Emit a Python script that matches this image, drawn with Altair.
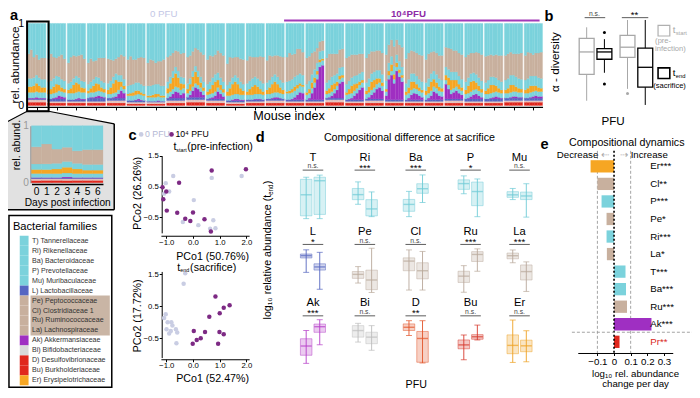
import altair as alt
import pandas as pd

W, H = 684, 382
FONT = "Liberation Sans"
K = 0.97


def px(x):
    return (x - 1) * 0.979


def py(y):
    return (y - 1) * 0.965


def off_left(x):
    return -px(x)


def off_bottom(y):
    return py(y) - H


C_CYAN = "#7bd2dc"
C_BLUE = "#5566c2"
C_TAN = "#c8b09e"
C_PURPLE = "#9f2fc2"
C_BI = "#e7c4bd"
C_BIGRAY = "#d9d9d9"
C_RED = "#e0271d"
C_ORANGE = "#f6a623"
C_GRAYPT = "#c9cde3"
C_DPURPLE = "#7d2a84"

# ---------------- panel a data (26 mice x 7 days) ----------------
A_RED = [.04, .03, .03, .03, .03, .02, .02, .03, .04, .03, .02, .03, .03,
         .03, .03, .04, .03, .03, .03, .03, .03, .03, .03, .03, .04, .04]
A_BI = [.03, .02, .02, .02, .03, .02, .02, .03, .03, .03, .02, .02, .03,
        .02, .02, .03, .02, .03, .02, .02, .02, .03, .02, .02, .02, .02]
A_LACTO = [.01, .03, .02, .04, .03, .02, .01, .03, .03, .02, .02, .02, .02,
           .02, .02, .02, .02, .02, .02, .02, .02, .02, .03, .03, .03, .03]
A_PREV = [.07, .06, .08, .06, .05, .06, .05, .06, .05, .05, .06, .06, .06,
          .08, .06, .05, .06, .06, .05, .06, .06, .05, .06, .06, .06, .06]
A_BACT = [.10, .10, .08, .08, .08, .10, .12, .08, .07, .09, .08, .10, .09,
          .12, .10, .10, .10, .10, .10, .10, .10, .10, .10, .10, .12, .12]
A_AKK = [
    [.01, .01, .01, .02, .01, .01, .01], [.0, .0, .01, .02, .04, .03, .02],
    [.0, .0, .0, .01, .02, .01, .01], [.0, .01, .01, .02, .03, .02, .01],
    [.0, .0, .01, .02, .05, .09, .06], [.0, .0, .0, .01, .02, .01, .0],
    [.0, .0, .0, .0, .01, .0, .0], [.0, .02, .05, .08, .07, .04, .06],
    [.0, .03, .08, .12, .10, .07, .03], [.0, .01, .02, .04, .09, .06, .03],
    [.0, .0, .01, .02, .02, .01, .01], [.0, .0, .0, .01, .01, .01, .0],
    [.0, .0, .01, .02, .02, .01, .0],
    [.0, .0, .01, .03, .06, .09, .08], [.0, .02, .08, .15, .25, .40, .42],
    [.0, .01, .03, .06, .10, .18, .20], [.0, .01, .02, .05, .08, .12, .15],
    [.0, .02, .05, .08, .12, .14, .10], [.05, .25, .30, .20, .35, .28, .22],
    [.0, .02, .06, .08, .07, .05, .03], [.0, .02, .05, .10, .08, .05, .04],
    [.18, .12, .06, .08, .10, .07, .05], [.0, .01, .03, .05, .06, .04, .02],
    [.0, .0, .01, .02, .03, .02, .01], [.0, .0, .01, .02, .02, .01, .01],
    [.0, .0, .01, .02, .03, .02, .02],
]
A_ERYS = [
    [.07, .07, .08, .10, .08, .06, .06], [.05, .06, .08, .10, .07, .05, .04],
    [.04, .06, .10, .12, .09, .06, .05], [.03, .05, .08, .10, .08, .05, .04],
    [.05, .08, .12, .15, .10, .06, .04], [.02, .03, .04, .05, .04, .03, .02],
    [.02, .02, .03, .04, .03, .02, .02], [.06, .10, .14, .16, .12, .08, .05],
    [.05, .08, .12, .14, .10, .06, .04], [.04, .06, .10, .12, .09, .06, .04],
    [.05, .09, .13, .15, .12, .08, .05], [.04, .07, .10, .11, .09, .06, .04],
    [.05, .08, .11, .13, .10, .07, .05],
    [.02, .03, .04, .05, .04, .03, .02], [.03, .05, .07, .06, .04, .03, .02],
    [.04, .06, .08, .07, .05, .04, .03], [.03, .06, .09, .08, .06, .04, .03],
    [.04, .07, .10, .09, .07, .05, .04], [.03, .05, .08, .06, .05, .04, .03],
    [.04, .07, .10, .08, .06, .04, .03], [.05, .08, .11, .09, .07, .05, .04],
    [.06, .09, .12, .10, .08, .06, .04], [.05, .09, .12, .11, .08, .06, .04],
    [.04, .07, .10, .09, .07, .05, .04], [.04, .06, .09, .08, .06, .05, .04],
    [.04, .06, .08, .07, .06, .05, .04],
]
A_CLOS = [
    [.30, .35, .25, .25, .22, .26, .26], [.28, .33, .26, .22, .25, .30, .27],
    [.25, .30, .28, .24, .27, .32, .28], [.26, .28, .22, .20, .24, .28, .30],
    [.30, .26, .20, .18, .22, .25, .28], [.32, .35, .30, .28, .30, .33, .34],
    [.28, .32, .30, .26, .28, .30, .32], [.30, .26, .22, .20, .24, .28, .30],
    [.32, .28, .24, .22, .26, .30, .33], [.30, .32, .26, .24, .27, .30, .32],
    [.26, .30, .24, .22, .25, .28, .30], [.28, .30, .26, .24, .26, .30, .32],
    [.27, .30, .25, .23, .26, .29, .31],
    [.30, .34, .30, .28, .32, .30, .28], [.32, .30, .26, .22, .18, .12, .12],
    [.30, .32, .28, .26, .24, .22, .22], [.32, .30, .28, .26, .25, .24, .22],
    [.30, .30, .27, .25, .24, .24, .26], [.32, .22, .20, .24, .18, .20, .24],
    [.30, .32, .28, .27, .28, .30, .32], [.28, .30, .26, .24, .26, .28, .30],
    [.24, .26, .28, .26, .26, .28, .30], [.30, .28, .25, .24, .27, .30, .32],
    [.32, .30, .27, .26, .28, .30, .32], [.30, .30, .28, .26, .28, .30, .32],
    [.30, .32, .28, .26, .28, .30, .32],
]
STACK_COLORS = [C_RED, C_BI, C_BLUE, C_PURPLE, C_CYAN, C_ORANGE, C_CYAN, C_TAN, C_CYAN]

# ---------------- legend ----------------
LEG_LABELS = ["T) Tannerellaceae", "Ri) Rikenellaceae", "Ba) Bacteroidaceae",
              "P) Prevotellaceae", "Mu) Muribaculaceae", "L) Lactobacillaceae",
              "Pe) Peptococcaceae", "Cl) Clostridiaceae 1", "Ru) Ruminococcaceae",
              "La) Lachnospiraceae", "Ak) Akkermansiaceae", "Bi) Bifidobacteriaceae",
              "D) Desulfovibrionaceae", "Bu) Burkholderiaceae", "Er) Erysipelotrichaceae"]
LEG_COLORS = [C_CYAN] * 5 + [C_BLUE] + [C_TAN] * 4 + [C_PURPLE, C_BIGRAY, C_RED, C_RED, C_ORANGE]

# ---------------- panel b data ----------------
B_STATS = {  # min, q1, median, q3, max
    ("0", "start"): [11.0, 25.4, 37.7, 45.1, 51.2],
    ("0", "end"): [26.3, 33.7, 37.7, 39.5, 44.7],
    ("10⁴", "start"): [17.5, 34.7, 40.3, 46.8, 55.2],
    ("10⁴", "end"): [8.7, 18.4, 29.3, 39.8, 55.2],
}
B_OUTLIERS = {("0", "end"): [48.4, 20.1], ("10⁴", "start"): [15.0]}

# ---------------- panel c data ----------------
C1_X0 = [-0.74, 0.70, 1.82, -1.02, -0.89, 0.03, -1.08, -0.38, 0.20, 0.76, 0.84, 0.64]
C1_Y0 = [0.84, 0.78, 0.84, 0.61, 0.34, 0.06, 0.27, -0.65, -0.75, -0.59, -0.85, -0.87]
C1_X1 = [0.70, 1.98, -0.52, -1.14, -1.00, -1.11, -0.98, -0.59, 0.00, -0.29, -0.10, 0.43, 0.67]
C1_Y1 = [1.02, 1.06, 0.62, 0.48, 0.34, 0.09, -0.28, -0.35, -0.34, -0.54, -0.62, -0.56, -0.96]
C2_X0 = [-0.29, -0.35, -1.02, -1.08, -0.95, -0.77, -0.99, -0.83, -0.64, -0.59, -0.62, -0.89, -0.81]
C2_Y0 = [1.52, 1.20, 0.25, 0.13, 0.00, -0.10, -0.22, -0.27, -0.22, -0.32, -0.65, -0.35, 0.00]
C2_X1 = [0.84, 1.15, 1.37, 1.00, 0.61, 0.03, 0.45, 0.99, 1.15, 0.29, 0.14, -0.01, 0.94]
C2_Y1 = [0.80, 0.45, 0.53, 0.28, 0.17, -0.27, -0.30, -0.30, -0.37, -0.50, -0.55, -0.67, -0.67]

# ---------------- panel d data ----------------
D_GRID = [["T", "Ri", "Ba", "P", "Mu"], ["L", "Pe", "Cl", "Ru", "La"], ["Ak", "Bi", "D", "Bu", "Er"]]
D_SIG = {"T": "n.s.", "Ri": "***", "Ba": "***", "P": "*", "Mu": "n.s.",
         "L": "*", "Pe": "n.s.", "Cl": "n.s.", "Ru": "***", "La": "***",
         "Ak": "***", "Bi": "n.s.", "D": "**", "Bu": "n.s.", "Er": "n.s."}
D_STATS = {  # [0 PFU], [10^4 PFU]: min, q1, median, q3, max
    "T": [[-4.7, -4.5, -3.0, -1.9, -1.75], [-4.7, -4.4, -2.0, -1.75, -1.6]],
    "Ri": [[-1.6, -1.48, -1.35, -1.19, -1.02], [-1.92, -1.9, -1.72, -1.48, -1.28]],
    "Ba": [[-1.62, -1.48, -1.3, -1.17, -0.96], [-1.25, -1.01, -0.89, -0.76, -0.53]],
    "P": [[-1.67, -1.47, -1.21, -1.04, -0.86], [-2.71, -2.21, -1.57, -1.14, -1.0]],
    "Mu": [[-0.414, -0.398, -0.38, -0.357, -0.334], [-0.54, -0.414, -0.388, -0.36, -0.30]],
    "L": [[-2.61, -1.92, -1.81, -1.73, -1.53], [-3.42, -2.5, -2.35, -2.2, -1.65]],
    "Pe": [[-3.2, -3.0, -2.83, -2.71, -2.5], [-3.6, -3.48, -3.07, -2.65, -1.72]],
    "Cl": [[-4.12, -2.62, -1.87, -1.62, -1.0], [-4.12, -3.25, -2.62, -2.0, -1.12]],
    "Ru": [[-1.30, -1.16, -1.07, -1.0, -0.92], [-1.0, -0.86, -0.76, -0.72, -0.68]],
    "La": [[-0.69, -0.6, -0.53, -0.47, -0.4], [-1.34, -1.08, -0.89, -0.74, -0.67]],
    "Ak": [[-3.58, -3.0, -2.34, -1.82, -1.23], [-2.25, -1.36, -0.96, -0.77, -0.46]],
    "Bi": [[-3.2, -2.9, -2.5, -2.2, -2.06], [-3.7, -3.3, -2.9, -2.6, -2.2]],
    "D": [[-2.59, -2.23, -2.0, -1.76, -1.53], [-4.55, -4.5, -2.8, -2.3, -1.53]],
    "Bu": [[-2.65, -2.34, -2.23, -2.09, -1.95], [-2.09, -2.07, -2.0, -1.94, -1.67]],
    "Er": [[-2.68, -2.28, -1.9, -1.42, -0.74], [-2.65, -2.19, -1.92, -1.66, -1.23]],
}
D_TICKS = {"T": [-2, -3, -4], "Ri": [-1.0, -1.4, -1.8], "Ba": [-0.8, -1.2, -1.6],
           "P": [-1.0, -1.5, -2.0, -2.5], "Mu": [-0.3, -0.4, -0.5], "L": [-2.0, -3.0],
           "Pe": [-2.0, -2.5, -3.0, -3.5], "Cl": [-1, -2, -3, -4], "Ru": [-0.8, -1.0, -1.2],
           "La": [-0.4, -0.8, -1.2], "Ak": [-1, -2, -3], "Bi": [-2, -3, -4], "D": [-2, -3, -4],
           "Bu": [-1.5, -2.0, -2.5], "Er": [-1.0, -1.5, -2.0, -2.5]}
D_DOMAIN = {"T": [-4.75, -1.45], "Ri": [-1.99, -0.79], "Ba": [-1.69, -0.48], "P": [-2.83, -0.73],
            "Mu": [-0.556, -0.223], "L": [-3.63, -1.41], "Pe": [-3.65, -1.68], "Cl": [-4.4, -0.8],
            "Ru": [-1.32, -0.658], "La": [-1.39, -0.34], "Ak": [-3.7, -0.39], "Bi": [-4.6, -1.78],
            "D": [-4.7, -1.39], "Bu": [-2.8, -1.49], "Er": [-2.8, -0.68]}
D_COLOR = {"T": "#6fcbd6", "Ri": "#6fcbd6", "Ba": "#6fcbd6", "P": "#6fcbd6", "Mu": "#6fcbd6",
           "L": "#5566c0", "Pe": "#b9a99b", "Cl": "#b9a99b", "Ru": "#b9a99b", "La": "#b9a99b",
           "Ak": "#b63fc9", "Bi": "#bdbdbd", "D": "#e2552b", "Bu": "#d63a2e", "Er": "#eea224"}

# ---------------- panel e data ----------------
E_LABELS = ["Er***", "Cl**", "P***", "Pe*", "Ri***", "La*", "T***", "Ba***", "Ru***", "Ak***", "Pr**"]
E_VALUES = [-0.141, -0.100, -0.075, -0.045, -0.045, -0.043, 0.069, 0.072, 0.078, 0.225, 0.033]
E_COLORS = [C_ORANGE, C_TAN, C_CYAN, C_TAN, C_CYAN, C_TAN, C_CYAN, C_CYAN, C_TAN, C_PURPLE, C_RED]
E_TICKS = [-0.1, 0.0, 0.1, 0.2, 0.3]


# ================= helpers =================
def cxs():
    return alt.Scale(domain=[0, 700], range=[px(0), px(700)], zero=False, nice=False)


def cys():
    return alt.Scale(domain=[0, 398], range=[py(0), py(398)], zero=False, nice=False)


def ctext(rows, align="center", weight="normal", baseline="middle"):
    df = pd.DataFrame(rows, columns=["text", "x", "y", "size", "color", "angle"])
    df["size"] = df["size"] * K
    return alt.Chart(df).mark_text(align=align, baseline=baseline, fontWeight=weight, font=FONT).encode(
        x=alt.X("x:Q", scale=cxs(), axis=None),
        y=alt.Y("y:Q", scale=cys(), axis=None),
        text="text:N",
        size=alt.Size("size:Q", scale=None),
        color=alt.Color("color:N", scale=None),
        angle=alt.Angle("angle:Q", scale=None),
    )


def crule(rows, dash=None):
    df = pd.DataFrame(rows, columns=["x", "y", "x2", "y2", "color", "w"])
    mk = dict(strokeDash=dash) if dash else {}
    return alt.Chart(df).mark_rule(**mk).encode(
        x=alt.X("x:Q", scale=cxs(), axis=None), x2="x2",
        y=alt.Y("y:Q", scale=cys(), axis=None), y2="y2",
        color=alt.Color("color:N", scale=None),
        strokeWidth=alt.StrokeWidth("w:Q", scale=None),
    )


def crect(rows, **mark):
    df = pd.DataFrame(rows, columns=["x", "y", "x2", "y2"])
    return alt.Chart(df).mark_rect(**mark).encode(
        x=alt.X("x:Q", scale=cxs(), axis=None), x2="x2",
        y=alt.Y("y:Q", scale=cys(), axis=None), y2="y2",
    )


layers = []

# ---- callout (mouse 1 -> inset) ----
call_df = pd.DataFrame({"x": [0, 20.5, 42.5, 109.5], "y": [119, 108, 108, 121], "y2": [210] * 4})
layers.append(alt.Chart(call_df).mark_area(color="#d4d4d4", line=alt.OverlayMarkDef(color="black", strokeWidth=1.2)).encode(
    x=alt.X("x:Q", scale=cxs(), axis=None), y=alt.Y("y:Q", scale=cys(), axis=None), y2="y2"))
layers.append(crule([(109.5, 121, 109.5, 210, "black", 1.5), (0, 210, 109.5, 210, "black", 1.5)]))

# ---- panel a ----
rows = []
for m in range(26):
    for d in range(7):
        parts = [A_RED[m], A_BI[m], A_LACTO[m], A_AKK[m][d], A_PREV[m], A_ERYS[m][d], A_BACT[m], A_CLOS[m][d]]
        parts.append(1 - sum(parts))
        c = 0.0
        for k, v in enumerate(parts):
            rows.append({"m": m, "d": d, "y0": c, "y1": c + v, "col": STACK_COLORS[k]})
            c += v
a_df = pd.DataFrame(rows)
STEP = 7.6
a_df["x0"] = a_df["m"] * STEP + a_df["d"]
a_df["x1"] = a_df["x0"] + 1
AX = alt.Scale(domain=[0, 25 * STEP + 7], range=[px(21), px(547)], zero=False, nice=False)
AY = alt.Scale(domain=[0, 1], range=[py(102), py(17)], zero=False, nice=False)
layers.append(alt.Chart(a_df).mark_rect(strokeWidth=0.3).encode(
    x=alt.X("x0:Q", scale=AX, axis=alt.Axis(orient="bottom", offset=off_bottom(103.5),
            values=[m * STEP + 3.5 for m in range(26)], labels=False, tickSize=3, title=None, domainWidth=1.2)),
    x2="x1",
    y=alt.Y("y0:Q", scale=AY, axis=alt.Axis(orient="left", offset=off_left(18), values=[0, 1], format="d",
            domain=False, ticks=False, labelFontSize=11 * K, title=None, labelPadding=1)),
    y2="y1",
    fill=alt.Fill("col:N", scale=None),
    stroke=alt.Stroke("col:N", scale=None),
))
layers.append(crect([(20.5, 15, 42.5, 108)], fillOpacity=0, stroke="black", strokeWidth=2))

# ---- inset ----
in_df = a_df[a_df["m"] == 0].copy()
IX = alt.Scale(type="band", domain=list(range(7)), range=[px(25), px(98)], paddingInner=0, paddingOuter=0)
IY = alt.Scale(domain=[0, 1], range=[py(182), py(123)], zero=False, nice=False)
layers.append(alt.Chart(in_df).mark_rect(strokeWidth=0.3).encode(
    x=alt.X("d:O", scale=IX, axis=alt.Axis(orient="bottom", offset=off_bottom(183.5), labelAngle=0,
            labelFontSize=10.5 * K, tickSize=0, domainWidth=1.5, title=None, labelPadding=2)),
    y=alt.Y("y0:Q", scale=IY, axis=alt.Axis(orient="left", offset=off_left(24), values=[0, 1], format="d",
            labelFontSize=10.5 * K, ticks=False, domainWidth=1.5, title=None, labelPadding=2)),
    y2="y1",
    fill=alt.Fill("col:N", scale=None),
    stroke=alt.Stroke("col:N", scale=None),
))

# ---- legend ----
layers.append(crect([(2, 216, 107, 394)], fill="white", stroke="black", strokeWidth=1.5))
leg_df = pd.DataFrame({"idx": list(range(15)), "label": LEG_LABELS, "col": LEG_COLORS})
leg_df["lo"] = leg_df["idx"] - 0.5
leg_df["hi"] = leg_df["idx"] + 0.5
LY = alt.Scale(domain=[-0.5, 14.5], range=[py(237), py(392)], zero=False, nice=False)
sw = alt.Chart(leg_df).mark_rect().encode(
    x=alt.value(px(13)), x2=alt.value(px(22)),
    y=alt.Y("lo:Q", scale=LY, axis=None), y2="hi", fill=alt.Fill("col:N", scale=None))
hl = alt.Chart(pd.DataFrame({"lo": [5.5], "hi": [9.5]})).mark_rect(color="#c9b5a5").encode(
    x=alt.value(px(24)), x2=alt.value(px(105)), y=alt.Y("lo:Q", scale=LY, axis=None), y2="hi")
lt = alt.Chart(leg_df).mark_text(align="left", fontSize=7.3 * K, font=FONT, color="#333").encode(
    x=alt.value(px(25.5)), y=alt.Y("idx:Q", scale=LY, axis=None), text="label:N")
layers.append(alt.layer(sw, hl, lt))

# ---- panel b ----
brows, orow = [], []
for g, pfu in enumerate(["0", "10⁴"]):
    for t, tp in enumerate(["start", "end"]):
        mn, q1, md, q3, mx = B_STATS[(pfu, tp)]
        pos = g * 2.3 + t
        col = "#a8a8a8" if tp == "start" else "black"
        brows.append({"pos": pos, "lo": pos - 0.42, "hi": pos + 0.42, "mn": mn, "q1": q1, "md": md,
                      "q3": q3, "mx": mx, "col": col})
        for o in B_OUTLIERS.get((pfu, tp), []):
            orow.append({"pos": pos, "v": o, "col": col})
b_df = pd.DataFrame(brows)
o_df = pd.DataFrame(orow)
BX = alt.Scale(domain=[-0.5, 3.8], range=[px(583), px(661)], zero=False, nice=False)
BY = alt.Scale(domain=[6.3, 57], range=[py(106), py(10)], zero=False, nice=False)
b_wh = alt.Chart(b_df).mark_rule(strokeWidth=1).encode(
    x=alt.X("pos:Q", scale=BX, axis=alt.Axis(orient="bottom", offset=off_bottom(106), values=[0.5, 2.8],
            labelExpr="datum.value < 1 ? '0' : '10⁴'", labelFontSize=12 * K, tickSize=3, title=None,
            labelFlush=False)),
    y=alt.Y("mn:Q", scale=BY, axis=alt.Axis(orient="left", offset=off_left(583), values=[10, 20, 30, 40, 50],
            labelFontSize=12 * K, tickSize=3, title=None)),
    y2="mx", color=alt.Color("col:N", scale=None))
b_box = alt.Chart(b_df).mark_rect(fill="white", strokeWidth=1.3).encode(
    x=alt.X("lo:Q", scale=BX, axis=None), x2="hi", y=alt.Y("q1:Q", scale=BY, axis=None), y2="q3",
    stroke=alt.Stroke("col:N", scale=None))
b_med = alt.Chart(b_df).mark_rule(strokeWidth=1.3).encode(
    x=alt.X("lo:Q", scale=BX, axis=None), x2="hi", y=alt.Y("md:Q", scale=BY, axis=None),
    color=alt.Color("col:N", scale=None))
b_out = alt.Chart(o_df).mark_circle(size=9, opacity=1).encode(
    x=alt.X("pos:Q", scale=BX, axis=None), y=alt.Y("v:Q", scale=BY, axis=None),
    color=alt.Color("col:N", scale=None))
layers.append(alt.layer(b_wh, b_box, b_med, b_out))
layers.append(crect([(665, 19, 677, 30)], fill="white", stroke="#b0b0b0", strokeWidth=1.2))
layers.append(crect([(665, 63, 677, 74)], fill="white", stroke="black", strokeWidth=1.6))


# ---- panel c ----
def pcoa(x0, y0, x1, y1, ydom, ybot, ytop, xaxis_y):
    df = pd.DataFrame({"x": x0 + x1, "y": y0 + y1, "col": [C_GRAYPT] * len(x0) + [C_DPURPLE] * len(x1)})
    sx = alt.Scale(domain=[-1.2, 2.1], range=[px(157.2), px(247.3)], zero=False, nice=False)
    sy = alt.Scale(domain=ydom, range=[py(ybot), py(ytop)], zero=False, nice=False)
    return alt.Chart(df).mark_circle(size=20, opacity=1).encode(
        x=alt.X("x:Q", scale=sx, axis=alt.Axis(orient="bottom", offset=off_bottom(xaxis_y), values=[-1, 0, 1, 2],
                format=".1f", labelFontSize=8 * K, tickSize=2.5, title=None, labelFlush=False, labelPadding=0)),
        y=alt.Y("y:Q", scale=sy, axis=alt.Axis(orient="left", offset=off_left(158), values=[-0.5, 0.5, 1.5],
                format=".1f", labelFontSize=8 * K, tickSize=2.5, title=None, labelPadding=1)),
        color=alt.Color("col:N", scale=None))


layers.append(pcoa(C1_X0, C1_Y0, C1_X1, C1_Y1, [-1.0, 1.5], 234, 154, 237))
layers.append(pcoa(C2_X0, C2_Y0, C2_X1, C2_Y1, [-1.1, 1.58], 363.3, 274, 365))

# ---- panel d ----
D_COL_X = [299, 352, 404, 460, 510]
D_ROW_TOP = [172, 249, 323]
D_PW, D_PH = 27, 48
d_head, d_sig_small, d_sig_big, d_lines = [], [], [], []
for r, fams in enumerate(D_GRID):
    for cidx, fam in enumerate(fams):
        x0, yt = D_COL_X[cidx], D_ROW_TOP[r]
        yb = yt + D_PH
        col = D_COLOR[fam]
        s0, s1 = D_STATS[fam]
        df = pd.DataFrame({"pfu": ["0", "10⁴"], "mn": [s0[0], s1[0]], "q1": [s0[1], s1[1]],
                           "md": [s0[2], s1[2]], "q3": [s0[3], s1[3]], "mx": [s0[4], s1[4]]})
        sx = alt.Scale(type="band", domain=["0", "10⁴"], range=[px(x0), px(x0 + D_PW)],
                       paddingInner=0.15, paddingOuter=0.05)
        sy = alt.Scale(domain=D_DOMAIN[fam], range=[py(yb), py(yt)], zero=False, nice=False)
        xa = alt.Axis(orient="bottom", offset=off_bottom(yb), labels=(r == 2), labelAngle=0,
                      labelFontSize=10.5 * K, tickSize=2.5, title=None, labelPadding=1)
        ya = alt.Axis(orient="left", offset=off_left(x0), values=D_TICKS[fam], format=".1f",
                      labelFontSize=8 * K, tickSize=2.5, title=None, labelPadding=1)
        wh = alt.Chart(df).mark_rule(color=col, strokeWidth=1, opacity=0.9).encode(
            x=alt.X("pfu:N", scale=sx, axis=xa, sort=["0", "10⁴"]),
            y=alt.Y("mn:Q", scale=sy, axis=ya), y2="mx")
        bx = alt.Chart(df).mark_rect(fill=col, fillOpacity=0.28, stroke=col, strokeOpacity=0.6, strokeWidth=0.8).encode(
            x=alt.X("pfu:N", scale=sx, axis=None, sort=["0", "10⁴"]),
            y=alt.Y("q1:Q", scale=sy, axis=None), y2="q3")
        md = alt.Chart(df).mark_tick(color=col, size=11, thickness=1.4, orient="horizontal").encode(
            x=alt.X("pfu:N", scale=sx, axis=None, sort=["0", "10⁴"]), y=alt.Y("md:Q", scale=sy, axis=None))
        cap1 = alt.Chart(df).mark_tick(color=col, size=6, thickness=1, orient="horizontal").encode(
            x=alt.X("pfu:N", scale=sx, axis=None, sort=["0", "10⁴"]), y=alt.Y("mn:Q", scale=sy, axis=None))
        cap2 = alt.Chart(df).mark_tick(color=col, size=6, thickness=1, orient="horizontal").encode(
            x=alt.X("pfu:N", scale=sx, axis=None, sort=["0", "10⁴"]), y=alt.Y("mx:Q", scale=sy, axis=None))
        layers.append(alt.layer(wh, bx, md, cap1, cap2))
        cx = x0 + D_PW / 2
        d_head.append((fam, cx, yt - 16, 11.5, "black", 0))
        sig = D_SIG[fam]
        if sig == "n.s.":
            d_sig_small.append((sig, cx, yt - 7, 7, "#444", 0))
        else:
            d_sig_big.append((sig, cx, yt - 5.5, 10, "black", 0))
        d_lines.append((x0 + 3, yt - 3, x0 + D_PW - 3, yt - 3, "#333", 0.8))

# ---- panel e ----
e_df = pd.DataFrame({"label": E_LABELS, "value": E_VALUES, "col": E_COLORS, "zero": [0.0] * len(E_LABELS),
                     "lcol": ["#d9261c" if l.startswith("Pr") else "black" for l in E_LABELS]})


def e_xscale():
    return alt.Scale(domain=[-0.218, 0.353], range=[px(583), px(680)], zero=False, nice=False)


EY = alt.Scale(type="band", domain=E_LABELS, range=[py(156), py(356)], paddingInner=0.3, paddingOuter=0.15)
# x axis of panel e (own layer so that it is always drawn)
layers.append(alt.Chart(pd.DataFrame({"v": E_TICKS})).mark_tick(opacity=0).encode(
    x=alt.X("v:Q", scale=e_xscale(), axis=alt.Axis(orient="bottom", offset=off_bottom(358.5),
            values=E_TICKS, format=".1f", labelExpr="datum.value == 0 ? '0' : datum.label",
            labelFontSize=10 * K, tickSize=2.5, labelPadding=1, title=None, labelFlush=False,
            labelOverlap=False, domainColor="black", tickColor="black"))))
# dashed guide lines behind the bars
layers.append(alt.Chart(pd.DataFrame({"v": [-0.1, 0.1]})).mark_rule(color="#9a9a9a", strokeDash=[3, 2], strokeWidth=0.9).encode(
    x=alt.X("v:Q", scale=e_xscale(), axis=None), y=alt.value(py(149)), y2=alt.value(py(358.5))))
e_bar = alt.Chart(e_df).mark_rect().encode(
    x=alt.X("zero:Q", scale=e_xscale(), axis=None),
    x2="value",
    y=alt.Y("label:N", scale=EY, axis=None, sort=E_LABELS),
    fill=alt.Fill("col:N", scale=None))
e_zero = alt.Chart(pd.DataFrame({"v": [0.0]})).mark_rule(color="black", strokeDash=[2, 2], strokeWidth=1.6).encode(
    x=alt.X("v:Q", scale=e_xscale(), axis=None), y=alt.value(py(149)), y2=alt.value(py(358.5)))
e_lab = alt.Chart(e_df).mark_text(align="left", fontSize=10 * K, font=FONT).encode(
    x=alt.value(px(657)), y=alt.Y("label:N", scale=EY, axis=None, sort=E_LABELS), text="label:N",
    color=alt.Color("lcol:N", scale=None))
layers.append(alt.layer(e_bar, e_zero, e_lab))

# ---- decorations ----
layers.append(crule([(283, 14, 544, 14, "#a33bb8", 2), (590, 11, 611, 11, "#333", 0.8),
                     (628, 11, 655, 11, "#333", 0.8)] + d_lines))
layers.append(crule([(577, 337, 700, 337, "#9a9a9a", 0.9)], dash=[3, 2]))
cdots = pd.DataFrame({"x": [137, 168], "y": [132, 132], "col": [C_GRAYPT, C_DPURPLE]})
layers.append(alt.Chart(cdots).mark_circle(size=22, opacity=1).encode(
    x=alt.X("x:Q", scale=cxs(), axis=None), y=alt.Y("y:Q", scale=cys(), axis=None),
    color=alt.Color("col:N", scale=None)))

GRAY = "#a8a8a8"
center_rows = [
    ("0 PFU", 160, 7.5, 10, "#c3c7e6", 0),
    ("Mouse index", 288, 113, 13, "black", 0),
    ("rel. abundance", 9.5, 60, 12, "black", 270),
    ("rel. abund.", 10, 143, 11, "black", 270),
    ("Days post infection", 62, 203, 10.5, "black", 0),
    ("α - diversity", 561, 57, 12, "black", 270),
    ("PFU", 619, 119, 12, "black", 0),
    ("n.s.", 600, 7, 7, "#444", 0),
    ("**", 641, 8, 10, "black", 0),
    ("PCo2 (26.26%)", 134, 193, 11, "black", 270),
    ("PCo1 (50.76%)", 210, 259, 11, "black", 0),
    ("PCo2 (17.72%)", 134, 320, 11, "black", 270),
    ("PCo1 (52.47%)", 210, 385, 11, "black", 0),
    ("Compositional difference at sacrifice", 411, 136, 11, "black", 0),
    ("PFU", 418, 391.5, 11, "black", 0),
    ("Compositional dynamics", 633, 141, 11, "black", 0),
    ("log₁₀ rel. abundance", 642, 380.3, 10, "black", 0),
    ("change per day", 642, 390.8, 10, "black", 0),
    ("⇠", 611, 153.5, 10, GRAY, 0),
    ("⇢", 630, 153.5, 10, GRAY, 0),
] + d_head + d_sig_small + d_sig_big
layers.append(ctext(center_rows))
layers.append(ctext([("10⁴PFU", 410, 7.5, 10, "#8e2aa6", 0)], weight="bold"))
layers.append(ctext([("a", 3, 9.5, 15, "black", 0), ("b", 549, 10, 15, "black", 0), ("c", 124, 134, 15, "black", 0),
                     ("d", 254, 136, 15, "black", 0), ("e", 545, 143, 15, "black", 0)], align="left", weight="bold"))
layers.append(ctext([
    ("Bacterial families", 6, 228, 11.5, "black", 0),
    ("t", 680, 24, 10, GRAY, 0),
    ("(pre-", 662, 35, 7.8, GRAY, 0),
    ("infection)", 662, 44, 7.8, GRAY, 0),
    ("t", 680, 68, 10, "black", 0),
    ("(sacrifice)", 660, 82, 7.8, "black", 0),
    ("start", 683, 27, 6, GRAY, 0),
    ("end", 683, 71, 6, "black", 0),
    ("0 PFU", 141, 132, 9, "#b4b8d4", 0),
    ("10⁴ PFU", 172, 132, 9, "black", 0),
    ("(pre-infection)", 184, 145, 11, "black", 0),
    ("(sacrifice)", 187, 270, 11, "black", 0),
    ("Increase", 637, 153.5, 10, "black", 0),
], align="left"))
layers.append(ctext([
    ("Decrease", 604, 153.5, 10, "black", 0),
    ("start", 183.5, 148, 5.5, "black", 0),
    ("t", 173, 145, 11, "black", 0),
    ("end", 186, 273, 5.5, "black", 0),
    ("t", 177, 270, 11, "black", 0),
    (")", 267, 180, 11, "black", 270),
    ("end", 270, 184, 6.5, "black", 270),
    ("log₁₀ relative abundance (t", 267, 194.5, 11, "black", 270),
], align="right"))

chart = alt.layer(*layers).properties(
    width=W, height=H, padding=0, background="white",
    autosize=alt.AutoSizeParams(type="none"),
).resolve_scale(x="independent", y="independent").configure_view(stroke=None).configure_axis(
    grid=False, labelFont=FONT, domainColor="black", tickColor="black", labelColor="black")

chart.save("out.html", embed_options={"renderer": "svg", "actions": False})
